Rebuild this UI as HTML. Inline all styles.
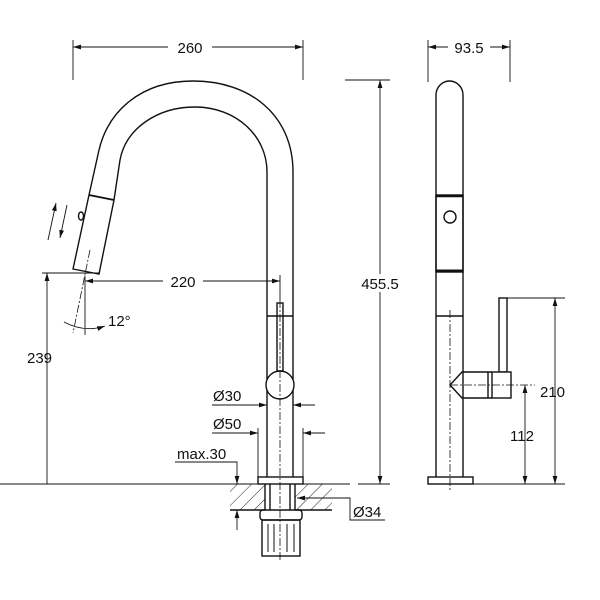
<!DOCTYPE html>
<html><head><style>body{margin:0;background:#fff}svg{display:block}text{font-family:"Liberation Sans",Arial,sans-serif;font-size:15px;fill:#111}</style></head>
<body>
<svg width="600" height="600" viewBox="0 0 600 600" xmlns="http://www.w3.org/2000/svg">
<defs>
<marker id="a" viewBox="0 0 10 10" refX="10" refY="5" markerWidth="8" markerHeight="8" orient="auto-start-reverse" markerUnits="userSpaceOnUse"><path d="M0,2 L10,5 L0,8z" fill="#111"/></marker>
<pattern id="h" width="10" height="10" patternUnits="userSpaceOnUse" patternTransform="rotate(45)"><line x1="0" y1="0" x2="0" y2="10" stroke="#222" stroke-width="1"/></pattern>
</defs>
<g fill="none" stroke="#111" stroke-width="1.4">
<path d="M293,477 L293,172 C293,115 250,81 193,81 C140,81 108,112 99,150 L89,195 L73,269 L99,274 L114,200 L120,160 C126,128 158,107 195,107 C235,107 267,135 267,172 L267,477"/>
<line x1="89" y1="195" x2="114" y2="200" stroke-width="1.8"/>
<ellipse cx="81" cy="216" rx="2.5" ry="4"/>
<line x1="267" y1="316" x2="293" y2="316"/>
<rect x="277" y="303" width="6" height="68"/>
<circle cx="280" cy="385" r="14" fill="#fff"/>
<rect x="258" y="477" width="45" height="7"/>
<rect x="230" y="484" width="35" height="26" fill="url(#h)" stroke="none"/>
<rect x="295" y="484" width="37" height="26" fill="url(#h)" stroke="none"/>
<line x1="230" y1="510" x2="265" y2="510"/><line x1="295" y1="510" x2="332" y2="510"/>
<line x1="265" y1="484" x2="265" y2="510"/><line x1="295" y1="484" x2="295" y2="510"/>
<line x1="270" y1="484" x2="270" y2="510"/><line x1="290" y1="484" x2="290" y2="510"/>
<rect x="260" y="510" width="42" height="10" rx="3"/>
<rect x="262" y="520" width="38" height="36"/>
<path d="M268,524 V552 M274,524 V552 M287,524 V552 M294,524 V552" stroke-width="1"/>
<line x1="0" y1="484" x2="350" y2="484" stroke-width="1"/>
<path d="M436,477 L436,95 A13.5,14 0 0 1 463,95 L463,477"/>
<rect x="436" y="195" width="27" height="77"/>
<line x1="436" y1="196" x2="463" y2="196" stroke-width="2.5"/>
<line x1="436" y1="271" x2="463" y2="271" stroke-width="3"/>
<circle cx="450" cy="217" r="6"/>
<line x1="436" y1="316" x2="463" y2="316"/>
<rect x="428" y="477" width="45" height="7"/>
<rect x="499" y="298" width="8" height="74"/>
<rect x="492" y="372" width="19" height="26" fill="#fff"/>
<path d="M492,372 L462,372 L450,385 L462,398 L492,398"/>
<line x1="488" y1="372" x2="488" y2="398"/>
</g>
<g stroke="#111" stroke-width="0.8" stroke-dasharray="8,2,2,2" fill="none">
<line x1="280" y1="300" x2="280" y2="562"/>
<line x1="450" y1="310" x2="450" y2="490"/>
<line x1="450" y1="385" x2="535" y2="385"/>
<line x1="90" y1="250" x2="73" y2="333"/>
</g>
<g stroke="#111" stroke-width="0.9" fill="none">
<line x1="73" y1="40" x2="73" y2="80"/><line x1="303" y1="40" x2="303" y2="80"/>
<line x1="73" y1="47" x2="303" y2="47" marker-start="url(#a)" marker-end="url(#a)"/>
<line x1="85" y1="276" x2="85" y2="335"/><line x1="280" y1="275" x2="280" y2="300"/>
<line x1="85" y1="281" x2="280" y2="281" marker-start="url(#a)" marker-end="url(#a)"/>
<line x1="42" y1="273" x2="100" y2="273"/>
<line x1="47" y1="273" x2="47" y2="484" marker-start="url(#a)"/>
<path d="M64,322 Q85,333 105,326" marker-end="url(#a)"/>
<line x1="48" y1="240" x2="56" y2="203" marker-end="url(#a)"/>
<line x1="67" y1="205" x2="60" y2="238" marker-end="url(#a)"/>
<line x1="345" y1="80" x2="390" y2="80"/><line x1="358" y1="484" x2="390" y2="484"/>
<line x1="380" y1="80" x2="380" y2="484" marker-start="url(#a)" marker-end="url(#a)"/>
<line x1="212" y1="405" x2="267" y2="405" marker-end="url(#a)"/>
<line x1="315" y1="405" x2="293" y2="405" marker-end="url(#a)"/>
<line x1="258" y1="428" x2="258" y2="477"/><line x1="303" y1="428" x2="303" y2="477"/>
<line x1="212" y1="433" x2="258" y2="433" marker-end="url(#a)"/>
<line x1="325" y1="433" x2="303" y2="433" marker-end="url(#a)"/>
<path d="M175,462 H237 V484" marker-end="url(#a)"/>
<line x1="237" y1="530" x2="237" y2="510" marker-end="url(#a)"/>
<path d="M385,520 H350 V498 H297" marker-end="url(#a)"/>
<line x1="428" y1="40" x2="428" y2="82"/><line x1="510" y1="40" x2="510" y2="82"/>
<line x1="428" y1="47" x2="510" y2="47" marker-start="url(#a)" marker-end="url(#a)"/>
<line x1="507" y1="298" x2="565" y2="298"/><line x1="473" y1="484" x2="565" y2="484"/>
<line x1="555" y1="298" x2="555" y2="484" marker-start="url(#a)" marker-end="url(#a)"/>
<line x1="525" y1="385" x2="525" y2="484" marker-start="url(#a)" marker-end="url(#a)"/>
</g>
<rect x="168" y="38" width="44" height="18" fill="#fff"/><text x="190" y="53" text-anchor="middle">260</text>
<rect x="163" y="272" width="40" height="18" fill="#fff"/><text x="183" y="287" text-anchor="middle">220</text>
<text x="108" y="326">12°</text>
<text x="27" y="363">239</text>
<rect x="358" y="274" width="44" height="18" fill="#fff"/><text x="380" y="289" text-anchor="middle">455.5</text>
<text x="213" y="401">Ø30</text>
<text x="213" y="429">Ø50</text>
<text x="177" y="459">max.30</text>
<text x="353" y="517">Ø34</text>
<rect x="448" y="38" width="42" height="18" fill="#fff"/><text x="469" y="53" text-anchor="middle">93.5</text>
<text x="540" y="397">210</text>
<text x="510" y="441">112</text>
</svg>
</body></html>
